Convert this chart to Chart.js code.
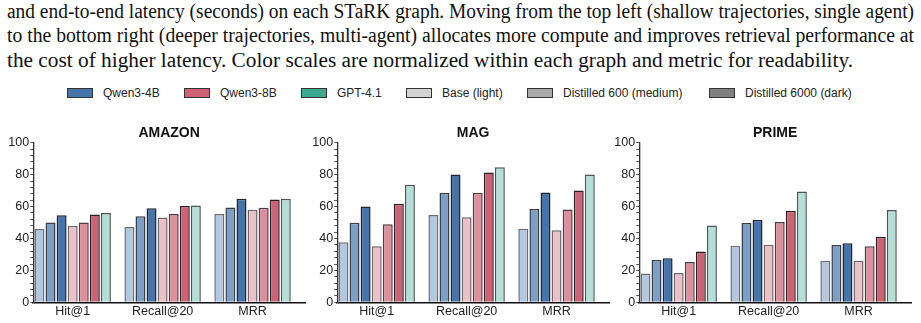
<!DOCTYPE html>
<html>
<head>
<meta charset="utf-8">
<script src="https://cdn.jsdelivr.net/npm/chart.js@4.4.1/dist/chart.umd.min.js"></script>
<style>
  html,body{margin:0;padding:0;background:#fff;}
  body{width:921px;height:323px;position:relative;overflow:hidden;}
  .cap{position:absolute;left:7px;font-family:"Liberation Serif","Times New Roman",serif;font-size:20px;color:#111;white-space:nowrap;line-height:24px;transform-origin:0 0;}
  .legend .it{position:absolute;top:86px;display:flex;align-items:center;font-family:"Liberation Sans",Arial,sans-serif;font-size:12px;color:#222;white-space:nowrap;}
  .legend .sw{width:24px;height:8px;border:1px solid #333;margin-right:10px;}
  .pane{position:absolute;top:118px;width:311px;height:205px;}
</style>
</head>
<body>
<div class="cap" id="l1" style="top:-1px" data-w="907">and end-to-end latency (seconds) on each STaRK graph. Moving from the top left (shallow trajectories, single agent)</div>
<div class="cap" id="l2" style="top:23px" data-w="907">to the bottom right (deeper trajectories, multi-agent) allocates more compute and improves retrieval performance at</div>
<div class="cap" id="l3" style="top:48px" data-w="846">the cost of higher latency. Color scales are normalized within each graph and metric for readability.</div>

<div class="legend" id="legend"></div>

<div class="pane" style="left:0px"><canvas id="cAmazon"></canvas></div>
<div class="pane" style="left:304px"><canvas id="cMag"></canvas></div>
<div class="pane" style="left:606px"><canvas id="cPrime"></canvas></div>

<script>
// metrics on the x axis
const CATS = ['Hit@1', 'Recall@20', 'MRR'];
// bar order inside a group: Qwen3-4B base/600/6000, Qwen3-8B base/600/6000, GPT-4.1
const SERIES = ['Qwen3-4B Base', 'Qwen3-4B Distilled 600', 'Qwen3-4B Distilled 6000',
                'Qwen3-8B Base', 'Qwen3-8B Distilled 600', 'Qwen3-8B Distilled 6000', 'GPT-4.1'];

const AMAZON_HIT1   = [46.0, 50.0, 54.5, 48.0, 50.0, 55.1, 56.0];
const AMAZON_RECALL = [47.2, 53.9, 58.9, 53.2, 55.3, 60.5, 60.7];
const AMAZON_MRR    = [55.3, 59.5, 64.9, 58.0, 59.3, 64.5, 64.9];

const MAG_HIT1   = [37.6, 49.9, 60.1, 35.1, 48.9, 61.8, 73.7];
const MAG_RECALL = [54.7, 68.7, 80.2, 53.4, 68.7, 81.4, 84.6];
const MAG_MRR    = [46.1, 58.5, 68.9, 45.1, 58.2, 70.1, 80.2];

const PRIME_HIT1   = [18.0, 26.5, 27.6, 18.4, 25.3, 31.9, 48.2];
const PRIME_RECALL = [35.5, 49.7, 51.6, 36.1, 50.3, 57.4, 69.5];
const PRIME_MRR    = [26.1, 35.9, 37.0, 26.1, 35.1, 41.1, 57.8];

const Y_TICKS = [0, 20, 40, 60, 80, 100];

const LEGEND = [
  ['Qwen3-4B', '#4574a8'], ['Qwen3-8B', '#cd6175'], ['GPT-4.1', '#3fa892'],
  ['Base (light)', '#d3d3d3'], ['Distilled 600 (medium)', '#a9a9a9'], ['Distilled 6000 (dark)', '#808080']
];
const LEGEND_X = [67, 184, 301, 406, 527, 709];

const FILL   = ['#b3c8df', '#7b9fc6', '#4474a9', '#eac0c9', '#dc909d', '#cc6276', '#b3dfd5'];
const STROKE = ['#6a6d72', '#3a3d44', '#1e2430', '#6d6668', '#4a3f42', '#2a2022', '#4d5554'];

// caption lines: squeeze each one to the width it has in the figure
document.querySelectorAll('.cap').forEach(el => {
  const w = el.getBoundingClientRect().width;
  el.style.transform = `scaleX(${(+el.dataset.w / w).toFixed(4)})`;
});

document.getElementById('legend').innerHTML = LEGEND.map(([t, c], i) =>
  `<div class="it" style="left:${LEGEND_X[i]}px"><span class="sw" style="background:${c}"></span><span>${t}</span></div>`).join('');

const FONT = '"Liberation Sans", Arial, sans-serif';

function makeChart(id, title, hit, recall, mrr){
  const datasets = SERIES.map((name, j) => ({
    label: name,
    data: [hit[j], recall[j], mrr[j]].map((v, i) => ({x: i, y: v})),
    backgroundColor: FILL[j],
    borderColor: STROKE[j],
    borderWidth: 1.5,
    borderSkipped: 'bottom',
    categoryPercentage: 0.862,
    barPercentage: 0.9
  }));
  return new Chart(document.getElementById(id), {
    type: 'bar',
    data: {datasets},
    options: {
      responsive: false,
      animation: false,
      devicePixelRatio: 1,
      layout: {padding: {right: 6, left: 0, top: 0, bottom: 0}},
      plugins: {
        legend: {display: false},
        tooltip: {enabled: false},
        title: {display: true, fullSize: false, text: title, color: '#111',
                font: {family: FONT, size: 14, weight: 'bold'},
                padding: {top: 7, bottom: 1}}
      },
      scales: {
        x: {
          type: 'linear', min: -0.439, max: 2.583, offset: false, bounds: 'ticks', grace: 0,
          afterBuildTicks: s => { s.ticks = CATS.map((c, i) => ({value: i})); },
          afterFit: s => { s.height = 20.7; },
          grid: {display: false, drawTicks: false, tickLength: 0, offset: false},
          border: {display: true, color: '#111', width: 1.5},
          ticks: {color: '#222', padding: 2, font: {family: FONT, size: 12.5},
                  callback: v => CATS[v] ?? ''}
        },
        y: {
          min: 0, max: 100,
          afterFit: s => { s.width = 33.2; },
          afterBuildTicks: s => {
            const t = [];
            for (let v = 0; v <= 100; v += 4) t.push({value: v});
            s.ticks = t;
          },
          grid: {display: true, drawOnChartArea: false, drawTicks: true, tickLength: 3,
                 color: '#555', tickWidth: 1},
          border: {display: true, color: '#333', width: 1.3},
          ticks: {color: '#222', padding: 1, autoSkip: false, font: {family: FONT, size: 12.5},
                  callback: v => Y_TICKS.includes(v) ? v : ''}
        }
      }
    }
  });
}

document.querySelectorAll('.pane canvas').forEach(c => { c.width = 311; c.height = 205; });

makeChart('cAmazon', 'AMAZON', AMAZON_HIT1, AMAZON_RECALL, AMAZON_MRR);
makeChart('cMag', 'MAG', MAG_HIT1, MAG_RECALL, MAG_MRR);
makeChart('cPrime', 'PRIME', PRIME_HIT1, PRIME_RECALL, PRIME_MRR);
</script>
</body>
</html>
